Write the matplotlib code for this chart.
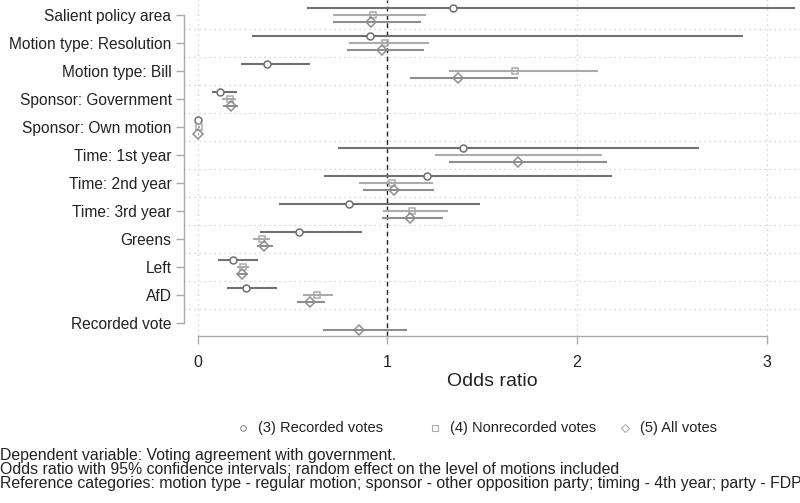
import matplotlib
matplotlib.use("Agg")
import matplotlib.pyplot as plt
import numpy as np
from matplotlib.lines import Line2D

plt.rcParams['font.family'] = ['Liberation Sans', 'DejaVu Sans']

categories = ["Salient policy area", "Motion type: Resolution", "Motion type: Bill",
              "Sponsor: Government", "Sponsor: Own motion", "Time: 1st year",
              "Time: 2nd year", "Time: 3rd year", "Greens", "Left", "AfD", "Recorded vote"]

# (3) Recorded votes
rec_pt = [1.348, 0.909, 0.367, 0.118, 0.003, 1.401, 1.208, 0.798, 0.536, 0.188, 0.253, np.nan]
rec_lo = [0.575, 0.288, 0.228, 0.074, 0.000, 0.742, 0.666, 0.429, 0.329, 0.109, 0.156, np.nan]
rec_hi = [3.150, 2.878, 0.592, 0.206, 0.012, 2.644, 2.184, 1.489, 0.865, 0.316, 0.417, np.nan]

# (4) Nonrecorded votes
non_pt = [0.926, 0.988, 1.673, 0.170, 0.005, np.nan, 1.023, 1.129, 0.338, 0.241, 0.631, np.nan]
non_lo = [0.715, 0.800, 1.327, 0.130, 0.001, 1.253, 0.852, 0.976, 0.293, 0.209, 0.557, np.nan]
non_hi = [1.202, 1.220, 2.110, 0.200, 0.010, 2.132, 1.240, 1.319, 0.381, 0.272, 0.715, np.nan]

# (5) All votes
all_pt = [0.914, 0.970, 1.374, 0.175, 0.004, 1.691, 1.037, 1.120, 0.350, 0.235, 0.592, 0.851]
all_lo = [0.715, 0.789, 1.120, 0.135, 0.001, 1.327, 0.873, 0.970, 0.311, 0.205, 0.525, 0.662]
all_hi = [1.176, 1.194, 1.688, 0.214, 0.008, 2.157, 1.246, 1.295, 0.399, 0.265, 0.671, 1.102]

xticks = [0, 1, 2, 3]

notes = ["Dependent variable: Voting agreement with government.",
         "Odds ratio with 95% confidence intervals; random effect on the level of motions included",
         "Reference categories: motion type - regular motion; sponsor - other opposition party; timing - 4th year; party - FDP"]

fig = plt.figure(figsize=(8, 5.03), dpi=100)
ax = fig.add_axes([184/800, 1 - 336/503, 1 - 184/800, 336/503])

n = len(categories)
ypos = np.arange(n)
series = [
    (rec_pt, rec_lo, rec_hi, -0.25, 'o', '#6f6f74', 'white', "(3) Recorded votes"),
    (non_pt, non_lo, non_hi, 0.0, 's', '#ababab', 'none', "(4) Nonrecorded votes"),
    (all_pt, all_lo, all_hi, 0.25, 'D', '#8e8e8e', 'none', "(5) All votes"),
]

# grid
for g in np.arange(0.5, n - 1, 1):
    ax.axhline(g, color='#c8c8c8', lw=0.9, ls=(0, (1, 3)), zorder=0)
for t in [0, 2, 3]:
    ax.plot([t, t], [-0.6, 11.46], color='#c8c8c8', lw=0.9, ls=(0, (1, 3)), zorder=0)
ax.axvline(1, color='#222222', lw=1.0, ls=(0, (3.5, 2.5)), zorder=1)

for pt, lo, hi, off, mk, col, fc, lab in series:
    pt = np.array(pt, float); lo = np.array(lo, float); hi = np.array(hi, float)
    yy = ypos + off
    ax.hlines(yy, lo, hi, color=col, lw=1.5, zorder=2)
    ms = 5.5 if mk == 'D' else 5
    ax.plot(pt, yy, ls='none', marker=mk, ms=ms, mfc=fc, mec=col, mew=1.1, zorder=3)

ax.set_xlim(-(197.7 - 184) / 189.6, (800 - 197.7) / 189.6)
ax.set_ylim((336 - 15) / 28, -15 / 28)

ax.set_yticks(ypos)
ax.set_yticklabels(categories, fontsize=11.2, color='#222222')
ax.set_xticks(xticks)
ax.set_xticklabels([str(x) for x in xticks], fontsize=11.5, color='#222222')
ax.tick_params(axis='both', color='#aaaaaa', length=6, width=1.0)
ax.tick_params(axis='x', pad=8)
ax.tick_params(axis='y', pad=3)

for s in ['top', 'right']:
    ax.spines[s].set_visible(False)
ax.spines['left'].set_bounds(0, n - 1)
ax.spines['bottom'].set_bounds(0, 3)
for s in ['left', 'bottom']:
    ax.spines[s].set_color('#aaaaaa')
    ax.spines[s].set_linewidth(1.0)

fig.text(492/800, 1 - 381/503, "Odds ratio", fontsize=14, ha='center', va='center', color='#222222')

# legend (equal-width columns, as in the reference)
leg_markers = ['o', 's', 'D']
leg_colors = ['#8e8e8e', '#ababab', '#b0b0b0']
leg_x = [243, 435, 625]
leg_y = 1 - 428/503
for mk, c, x0, s in zip(leg_markers, leg_colors, leg_x, series):
    fig.add_artist(Line2D([x0/800], [leg_y], ls='none', marker=mk, ms=4, mfc='white',
                          mec=c, mew=0.8, transform=fig.transFigure))
    fig.text((x0 + 15)/800, leg_y, s[-1], fontsize=10.5, ha='left', va='center', color='#222222')

for i, t in enumerate(notes):
    fig.text(0, 1 - (460 + 14 * i) / 503, t, fontsize=11.4, ha='left', va='baseline', color='#222222')

fig.savefig("out.png", dpi=100)
